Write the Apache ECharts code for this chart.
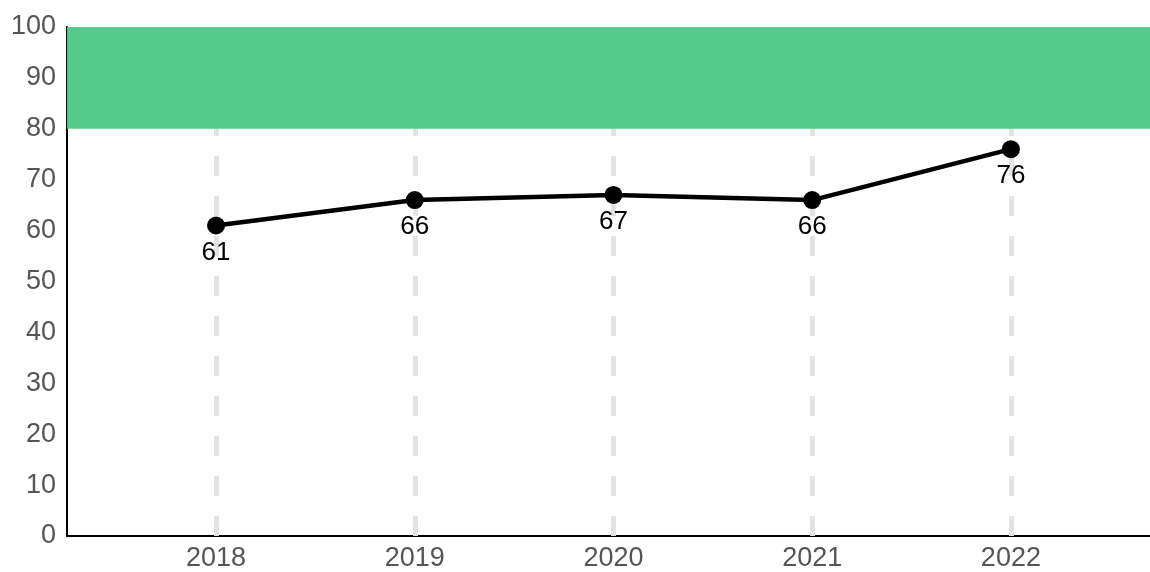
<!DOCTYPE html>
<html>
<head>
<meta charset="utf-8">
<script src="https://cdn.jsdelivr.net/npm/echarts@6/dist/echarts.min.js"></script>
<style>html,body{margin:0;padding:0;background:#fff;}#c{width:1150px;height:572px;}</style>
</head>
<body>
<div id="c"></div>
<script>
const years = [2018, 2019, 2020, 2021, 2022];
const values = [61, 66, 67, 66, 76];
const bandRange = [80, 100];

const chart = echarts.init(document.getElementById('c'));
const font = 'Liberation Sans, Arial, sans-serif';
chart.setOption({
  animation: false,
  grid: { left: 67, right: 0, top: 27, bottom: 35, containLabel: false },
  xAxis: {
    type: 'value', min: 2017.25, max: 2022.7, interval: 0.25,
    axisLine: { show: true, lineStyle: { color: '#000', width: 2 } },
    axisTick: { show: false },
    splitLine: { show: false },
    axisLabel: {
      fontSize: 27, color: '#555', fontFamily: font, margin: 9,
      showMaxLabel: false,
      formatter: v => (Math.abs(v - Math.round(v)) < 1e-6 ? String(Math.round(v)) : '')
    }
  },
  yAxis: {
    type: 'value', min: 0, max: 100, interval: 10,
    axisLine: { show: true, lineStyle: { color: '#000', width: 2 } },
    axisTick: { show: false },
    splitLine: { show: false },
    axisLabel: { fontSize: 27, color: '#555', fontFamily: font, margin: 11 }
  },
  series: [
    {
      type: 'line', data: [], z: 1, silent: true,
      markLine: {
        silent: true, symbol: 'none', label: { show: false }, z: 1,
        lineStyle: { color: '#e3e3e3', width: 5, type: [20, 20] },
        data: years.map(y => ({ xAxis: y }))
      }
    },
    {
      type: 'line', data: [], z: 2, silent: true,
      markArea: {
        silent: true, z: 3,
        itemStyle: { color: '#4fc887', opacity: 0.96 },
        data: [[{ yAxis: bandRange[0] }, { yAxis: bandRange[1] }]]
      }
    },
    {
      type: 'line', z: 5,
      data: years.map((y, i) => [y, values[i]]),
      symbol: 'circle', symbolSize: 18,
      lineStyle: { color: '#000', width: 4.5 },
      itemStyle: { color: '#000' },
      label: { show: true, position: 'bottom', distance: 5, fontSize: 26, color: '#000', fontFamily: font }
    }
  ]
});
</script>
</body>
</html>
